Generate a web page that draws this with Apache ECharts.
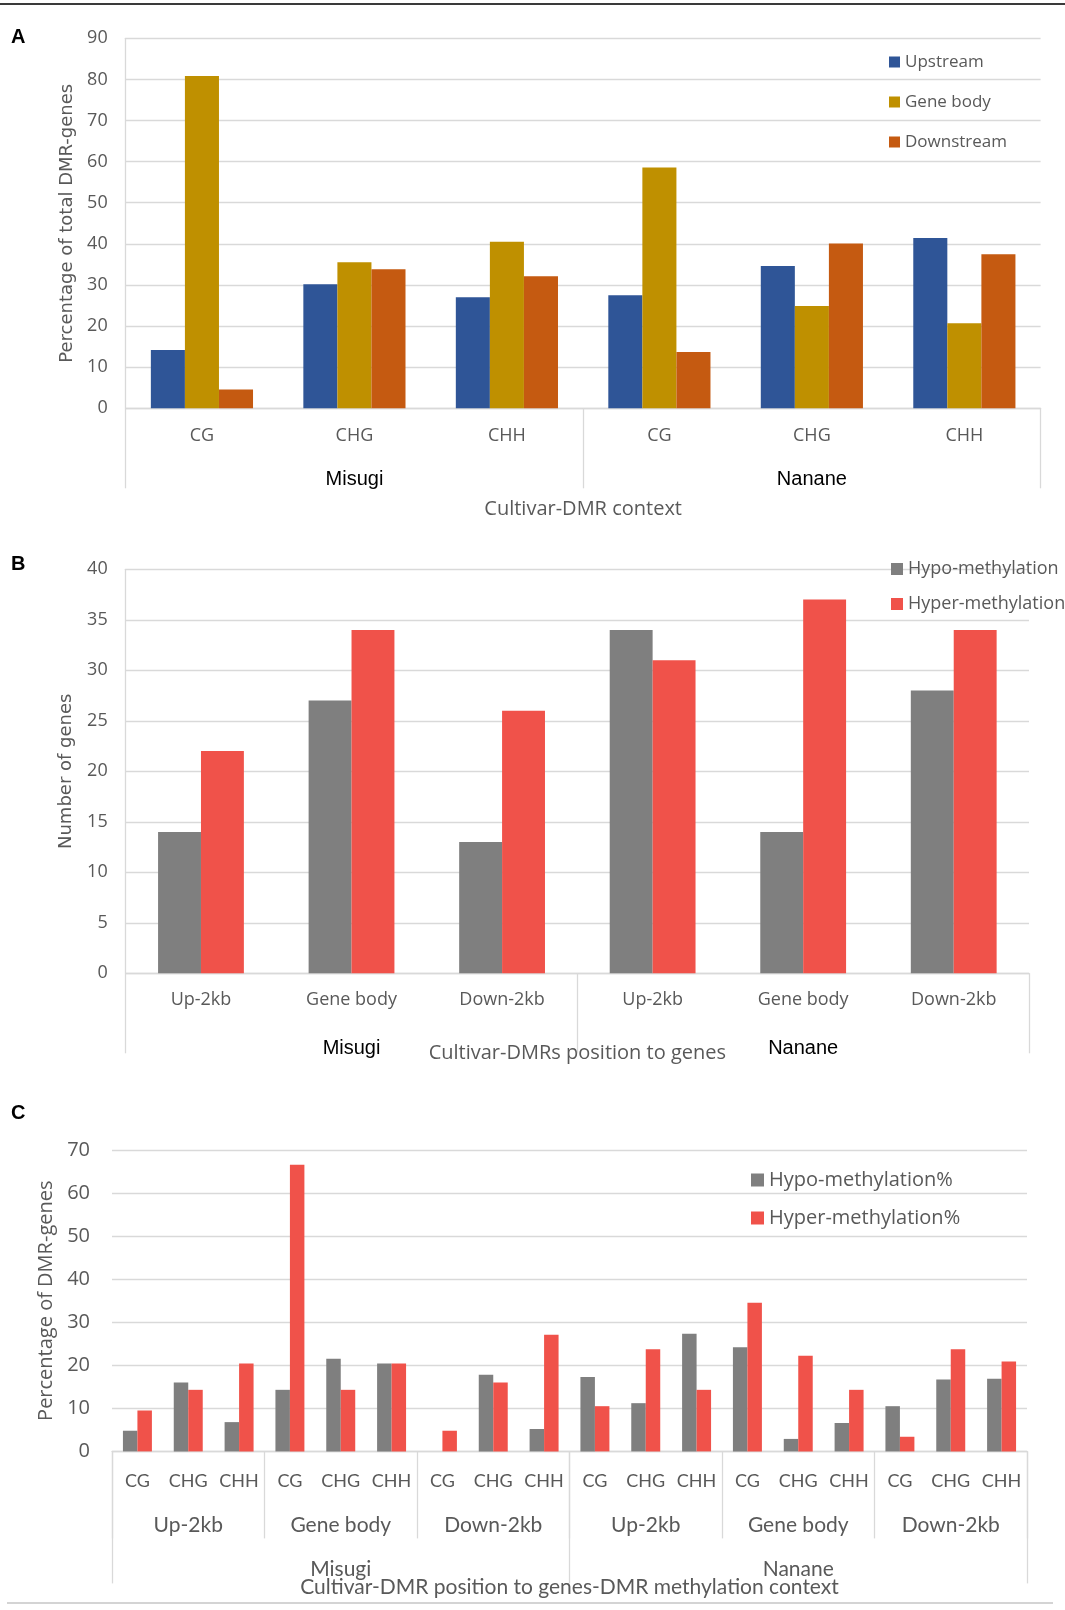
<!DOCTYPE html>
<html>
<head>
<meta charset="utf-8">
<script src="https://cdn.jsdelivr.net/npm/echarts@6/dist/echarts.min.js"></script>
<style>
html,body{margin:0;padding:0;background:#fff;}
#c{width:1065px;height:1610px;}
</style>
</head>
<body>
<div id="c"></div>
<script>
// ---------- Panel A ----------
const aContexts = ['CG','CHG','CHH','CG','CHG','CHH'];
const aCultivars = ['Misugi','Nanane'];
const aUpstream   = [14.2, 30.2, 27.0, 27.5, 34.6, 41.4];
const aGeneBody   = [80.8, 35.5, 40.5, 58.6, 24.9, 20.7];
const aDownstream = [4.6, 33.8, 32.1, 13.7, 40.1, 37.5];

// ---------- Panel B ----------
const bPositions = ['Up-2kb','Gene body','Down-2kb','Up-2kb','Gene body','Down-2kb'];
const bCultivars = ['Misugi','Nanane'];
const bHypo  = [14, 27, 13, 34, 14, 28];
const bHyper = [22, 34, 26, 31, 37, 34];

// ---------- Panel C ----------
const cContexts = ['CG','CHG','CHH','CG','CHG','CHH','CG','CHG','CHH','CG','CHG','CHH','CG','CHG','CHH','CG','CHG','CHH'];
const cPositions = ['Up-2kb','Gene body','Down-2kb','Up-2kb','Gene body','Down-2kb'];
const cCultivars = ['Misugi','Nanane'];
const cHypo  = [4.8, 16.0, 6.8, 14.3, 21.5, 20.4, 0, 17.8, 5.2, 17.3, 11.2, 27.3, 24.2, 2.9, 6.6, 10.5, 16.7, 16.9];
const cHyper = [9.5, 14.3, 20.4, 66.6, 14.3, 20.4, 4.8, 16.0, 27.1, 10.5, 23.7, 14.3, 34.5, 22.2, 14.3, 3.4, 23.7, 20.9];

const GRID = '#D9D9D9';
const TXT = '#595959';
const OS = 'Open Sans';
const LT = 'Lato';
const AR = 'Liberation Sans';

function groupAxis(grid, data, tickLen, margin, font, size, color) {
  return {
    type: 'category', gridIndex: grid, position: 'bottom', data: data,
    axisLine: {show: false},
    axisTick: {show: true, length: tickLen, interval: 0, lineStyle: {color: GRID, width: 1.3}},
    axisLabel: {interval: 0, margin: margin, fontFamily: font, fontSize: size, color: color},
    splitLine: {show: false}
  };
}

const chart = echarts.init(document.getElementById('c'), null, {renderer: 'canvas'});
chart.setOption({
  backgroundColor: '#fff',
  animation: false,
  graphic: [
    {type: 'line', shape: {x1: 0, y1: 4, x2: 1065, y2: 4}, style: {stroke: '#3a3a3a', lineWidth: 2}},
    {type: 'line', shape: {x1: 7, y1: 1603, x2: 1053, y2: 1603}, style: {stroke: '#d4d4d4', lineWidth: 2}},
    {type: 'text', left: 11, top: 27, style: {text: 'A', font: 'bold 20px "Liberation Sans"', fill: '#000'}},
    {type: 'text', left: 11, top: 554, style: {text: 'B', font: 'bold 20px "Liberation Sans"', fill: '#000'}},
    {type: 'text', left: 11, top: 1103, style: {text: 'C', font: 'bold 20px "Liberation Sans"', fill: '#000'}}
  ],
  grid: [
    {left: 125.7, right: 24.4, top: 38.3, height: 370},
    {left: 125.7, right: 36, top: 569.3, height: 404},
    {left: 112, right: 38, top: 1150, height: 301.4}
  ],
  legend: [
    {data: ['Upstream','Gene body','Downstream'], orient: 'vertical', left: 884, top: 47,
     itemWidth: 11, itemHeight: 11, itemGap: 20, icon: 'rect',
     textStyle: {fontFamily: OS, fontSize: 17, color: TXT, lineHeight: 20}},
    {data: ['Hypo-methylation','Hyper-methylation'], orient: 'vertical', left: 886, top: 554,
     itemWidth: 12, itemHeight: 12, itemGap: 15, icon: 'rect',
     textStyle: {fontFamily: OS, fontSize: 18, color: TXT, lineHeight: 20}},
    {data: ['Hypo-methylation%','Hyper-methylation%'], orient: 'vertical', left: 746, top: 1164,
     itemWidth: 13, itemHeight: 13, itemGap: 16, icon: 'rect',
     textStyle: {fontFamily: OS, fontSize: 20, color: TXT, lineHeight: 22}}
  ],
  xAxis: [
    // Panel A
    {type: 'category', gridIndex: 0, data: aContexts,
     axisLine: {lineStyle: {color: GRID, width: 1.3}}, axisTick: {show: false},
     axisLabel: {interval: 0, margin: 19, fontFamily: OS, fontSize: 18, color: TXT},
     name: 'Cultivar-DMR context', nameLocation: 'middle', nameGap: 91,
     nameTextStyle: {fontFamily: OS, fontSize: 20, color: TXT}},
    groupAxis(0, aCultivars, 80, 61, AR, 20, '#000'),
    // Panel B
    {type: 'category', gridIndex: 1, data: bPositions,
     axisLine: {lineStyle: {color: GRID, width: 1.3}}, axisTick: {show: false},
     axisLabel: {interval: 0, margin: 18, fontFamily: OS, fontSize: 18, color: TXT},
     name: 'Cultivar-DMRs position to genes', nameLocation: 'middle', nameGap: 70,
     nameTextStyle: {fontFamily: OS, fontSize: 20, color: TXT}},
    groupAxis(1, bCultivars, 80, 65, AR, 20, '#000'),
    // Panel C
    {type: 'category', gridIndex: 2, data: cContexts,
     axisLine: {lineStyle: {color: GRID, width: 1.3}}, axisTick: {show: false},
     axisLabel: {interval: 0, margin: 21, fontFamily: LT, fontSize: 18, color: TXT},
     name: 'Cultivar-DMR position to genes-DMR methylation context', nameLocation: 'middle', nameGap: 125,
     nameTextStyle: {fontFamily: LT, fontSize: 21, color: TXT}},
    groupAxis(2, cPositions, 87, 63, LT, 21, TXT),
    groupAxis(2, cCultivars, 132, 107, LT, 21, TXT)
  ],
  yAxis: [
    {type: 'value', gridIndex: 0, min: 0, max: 90, interval: 10,
     axisLine: {show: true, lineStyle: {color: GRID, width: 1.3}}, axisTick: {show: false},
     splitLine: {lineStyle: {color: GRID, width: 1.3}},
     axisLabel: {margin: 18, fontFamily: OS, fontSize: 18, color: TXT},
     name: 'Percentage of total DMR-genes', nameLocation: 'middle', nameGap: 49,
     nameTextStyle: {fontFamily: 'DejaVu Sans', fontSize: 18, color: TXT}},
    {type: 'value', gridIndex: 1, min: 0, max: 40, interval: 5,
     axisLine: {show: true, lineStyle: {color: GRID, width: 1.3}}, axisTick: {show: false},
     splitLine: {lineStyle: {color: GRID, width: 1.3}},
     axisLabel: {margin: 18, fontFamily: OS, fontSize: 18, color: TXT},
     name: 'Number of genes', nameLocation: 'middle', nameGap: 50,
     nameTextStyle: {fontFamily: 'DejaVu Sans', fontSize: 18, color: TXT}},
    {type: 'value', gridIndex: 2, min: 0, max: 70, interval: 10,
     axisLine: {show: false}, axisTick: {show: false},
     splitLine: {lineStyle: {color: GRID, width: 1.3}},
     axisLabel: {margin: 22, fontFamily: OS, fontSize: 20, color: TXT},
     name: 'Percentage of DMR-genes', nameLocation: 'middle', nameGap: 55,
     nameTextStyle: {fontFamily: OS, fontSize: 20, color: TXT}}
  ],
  series: [
    {name: 'Upstream', type: 'bar', xAxisIndex: 0, yAxisIndex: 0, data: aUpstream,
     itemStyle: {color: '#2F5597'}, barGap: '0%', barCategoryGap: '33%'},
    {name: 'Gene body', type: 'bar', xAxisIndex: 0, yAxisIndex: 0, data: aGeneBody,
     itemStyle: {color: '#BF9000'}, barGap: '0%', barCategoryGap: '33%'},
    {name: 'Downstream', type: 'bar', xAxisIndex: 0, yAxisIndex: 0, data: aDownstream,
     itemStyle: {color: '#C55A11'}, barGap: '0%', barCategoryGap: '33%'},
    {name: 'Hypo-methylation', type: 'bar', xAxisIndex: 2, yAxisIndex: 1, data: bHypo,
     itemStyle: {color: '#7F7F7F'}, barGap: '0%', barCategoryGap: '43%'},
    {name: 'Hyper-methylation', type: 'bar', xAxisIndex: 2, yAxisIndex: 1, data: bHyper,
     itemStyle: {color: '#F0524A'}, barGap: '0%', barCategoryGap: '43%'},
    {name: 'Hypo-methylation%', type: 'bar', xAxisIndex: 4, yAxisIndex: 2, data: cHypo,
     itemStyle: {color: '#7F7F7F'}, barGap: '0%', barCategoryGap: '43%'},
    {name: 'Hyper-methylation%', type: 'bar', xAxisIndex: 4, yAxisIndex: 2, data: cHyper,
     itemStyle: {color: '#F0524A'}, barGap: '0%', barCategoryGap: '43%'}
  ]
});
</script>
</body>
</html>
